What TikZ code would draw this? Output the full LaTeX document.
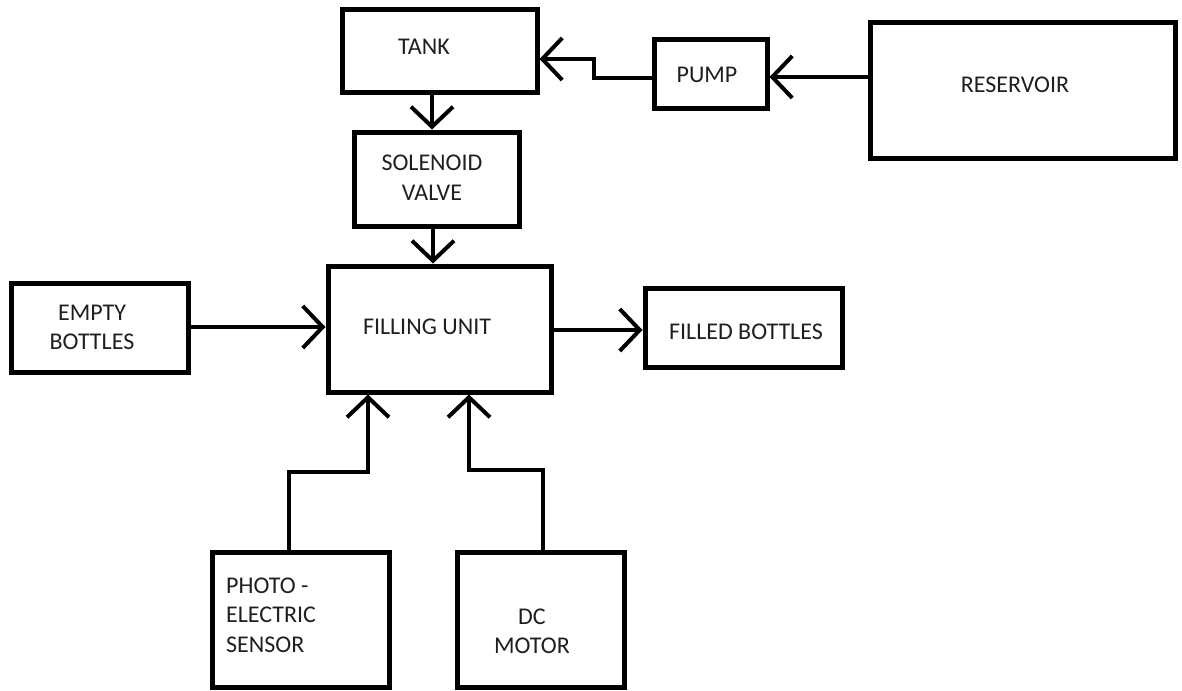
\documentclass[tikz,border=0pt]{standalone}
\usepackage{fontspec}
\setmainfont{Carlito}
\usetikzlibrary{arrows.meta}
\begin{document}
\begin{tikzpicture}[x=1pt,y=-1pt,
  box/.style={draw=black, line width=5pt, rectangle, inner sep=0pt},
  lbl/.style={font=\fontsize{24}{29.5}\selectfont, align=center, inner sep=0pt, text=black!88},
  arr/.style={draw=black, line width=4pt, -{Straight Barb[length=20pt,width=42pt,line width=4pt]}}]
\fill[white] (0,0) rectangle (1182,690);
\useasboundingbox (0,0) rectangle (1182,690);
% boxes
\node[box, minimum width=195pt, minimum height=83pt]  (tank)   at (439.5,51.5) {};
\node[box, minimum width=113pt, minimum height=69pt]  (pump)   at (710.5,74.5) {};
\node[box, minimum width=305pt, minimum height=135pt] (res)    at (1022.5,90.5) {};
\node[box, minimum width=165pt, minimum height=94pt]  (sol)    at (436.5,179) {};
\node[box, minimum width=223pt, minimum height=126pt] (fill)   at (439.5,329) {};
\node[box, minimum width=177pt, minimum height=89pt]  (empty)  at (99.5,327.5) {};
\node[box, minimum width=197pt, minimum height=79pt]  (filled) at (743.5,327.5) {};
\node[box, minimum width=177pt, minimum height=135pt] (photo)  at (300.5,619.5) {};
\node[box, minimum width=167pt, minimum height=135pt] (dc)     at (540.5,619.5) {};
% labels
\node[lbl] (tankt)   at (424,47)   {TANK};
\node[lbl] (pumpt)   at (707,75)   {PUMP};
\node[lbl] (rest)    at (1015,85)  {RESERVOIR};
\node[lbl] (solt)    at (432,177.5) {SOLENOID\\VALVE};
\node[lbl] (fillt)   at (427,327)  {FILLING UNIT};
\node[lbl] (emptyt)  at (92,327.5) {EMPTY\\BOTTLES};
\node[lbl] (filledt) at (746,332)  {FILLED BOTTLES};
\node[lbl, align=left, anchor=west] (photot) at (226,615) {PHOTO -\\ELECTRIC\\SENSOR};
\node[lbl] (dct)     at (532,631.5) {DC\\MOTOR};
% helper coordinates
\coordinate (k0) at (594,78);
\coordinate (k1) at (594,59);
\coordinate (r)  at (820,77);
\coordinate (v1) at (432,110);
\coordinate (v2) at (433,245);
\coordinate (h1) at (250,327);
\coordinate (h2) at (600,330);
\coordinate (p1) at (289,472);
\coordinate (p2) at (368,472);
\coordinate (d1) at (543,470);
\coordinate (d2) at (469,470);
% connectors
\draw[arr] (res.west |- r) -- (pump.east |- r);
\draw[arr] (pump.west |- k0) -- (k0) -- (k1) -- (tank.east |- k1);
\draw[arr] (tank.south -| v1) -- (sol.north -| v1);
\draw[arr] (sol.south -| v2) -- (fill.north -| v2);
\draw[arr] (empty.east |- h1) -- (fill.west |- h1);
\draw[arr] (fill.east |- h2) -- (filled.west |- h2);
\draw[arr] (photo.north -| p1) -- (p1) -- (p2) -- (fill.south -| p2);
\draw[arr] (dc.north -| d1) -- (d1) -- (d2) -- (fill.south -| d2);
\end{tikzpicture}
\end{document}
